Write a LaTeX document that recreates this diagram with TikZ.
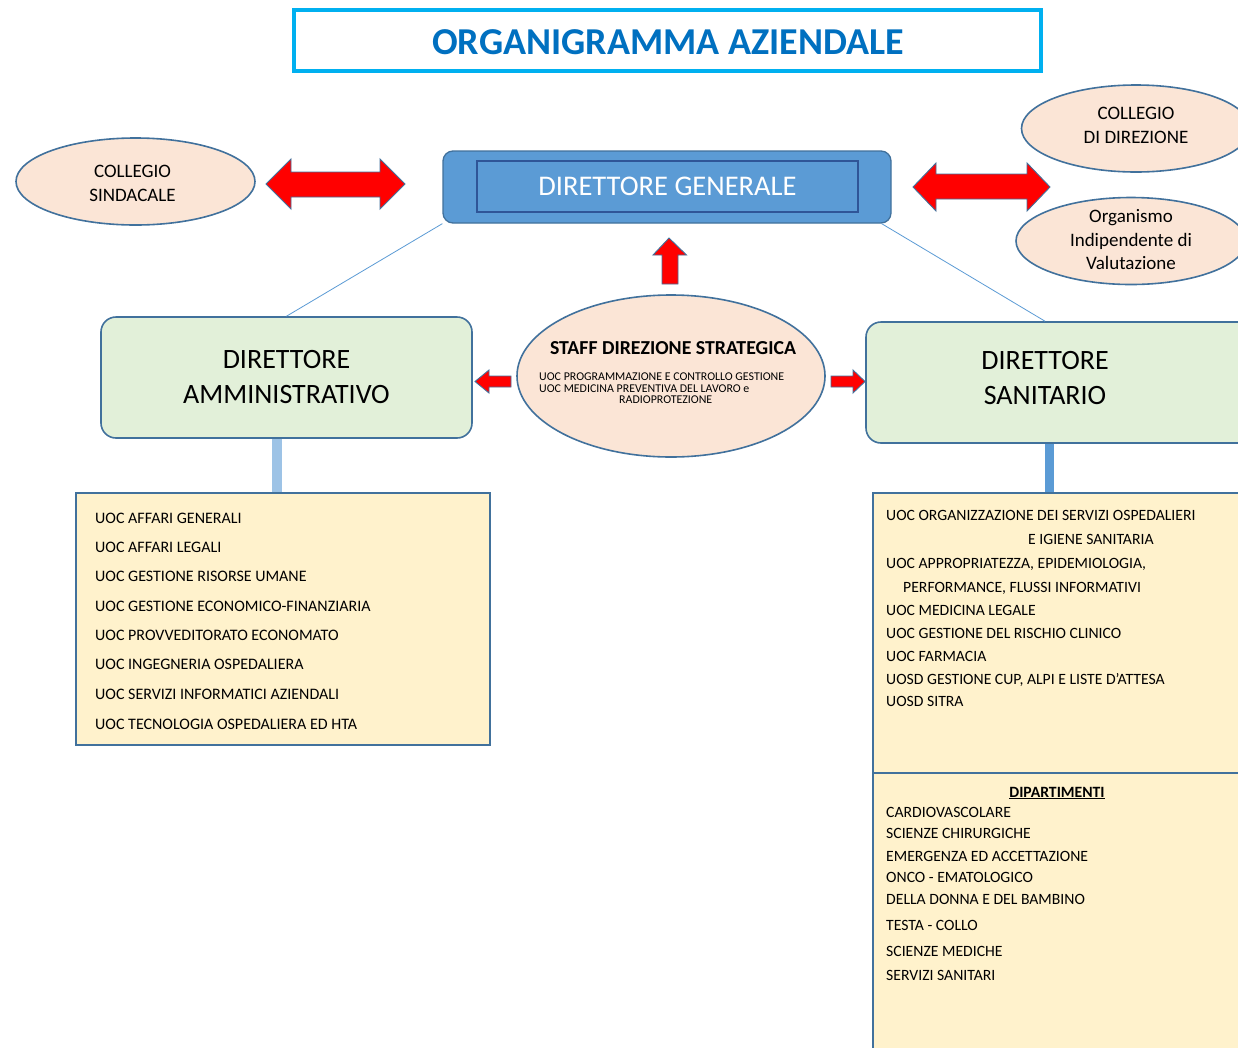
\documentclass[tikz,border=0pt]{standalone}
\usepackage{fontspec}
\setmainfont{Carlito}
\usetikzlibrary{shapes.geometric,calc}
\definecolor{titleblue}{HTML}{0070C0}
\definecolor{titleframe}{HTML}{00B0F0}
\definecolor{dgfill}{HTML}{5B9BD5}
\definecolor{frame}{HTML}{41719C}
\definecolor{dginner}{HTML}{2F5597}
\definecolor{peach}{HTML}{FBE5D6}
\definecolor{palegreen}{HTML}{E2F0D9}
\definecolor{paleyellow}{HTML}{FFF2CC}
\definecolor{lightbar}{HTML}{9DC3E6}
\tikzset{
  oval/.style={ellipse, draw=frame, fill=peach, line width=1.6pt, inner sep=0pt},
  ovaltext/.style={inner sep=0pt, align=center, font=\fontsize{19}{23.5}\selectfont},
  dirbox/.style={rectangle, rounded corners=15pt, draw=frame, fill=palegreen, line width=1.6pt,
    align=center, font=\fontsize{28}{35}\selectfont},
  listbox/.style={rectangle, draw=frame, fill=paleyellow, line width=1.6pt},
  redarrow/.style={fill=red, draw=frame, line width=0.9pt, line join=miter},
  thinline/.style={draw=dgfill, line width=0.8pt},
  lst/.style={anchor=base west, inner sep=0pt, font=\fontsize{16}{19}\selectfont},
  lstr/.style={anchor=base west, inner sep=0pt, font=\fontsize{15.7}{19}\selectfont},
  small/.style={anchor=base west, inner sep=0pt, font=\fontsize{11.9}{13}\selectfont},
}
\begin{document}
\begin{tikzpicture}[x=1pt,y=-1pt]
\useasboundingbox (0,0) rectangle (1238,1047);
\clip (0,0) rectangle (1238,1047);
\fill[white] (0,0) rectangle (1238,1047);

% title
\node[draw=titleframe, line width=4pt, minimum width=747pt, minimum height=61pt, inner sep=0pt] (titlebox) at (667.5,40.5) {};
\node[anchor=base, inner sep=0pt, text=titleblue, font=\fontsize{38}{44}\selectfont\bfseries] (title) at (668,54) {ORGANIGRAMMA AZIENDALE};

% direttore generale
\node[rectangle, rounded corners=10pt, draw=frame, fill=dgfill, line width=1.3pt, minimum width=448pt, minimum height=72pt] (dg) at (667,187) {};
\node[rectangle, draw=dginner, line width=1.3pt, minimum width=381pt, minimum height=51pt, text=white, font=\fontsize{28.5}{33}\selectfont] (dgi) at (667.5,186.5) {DIRETTORE GENERALE};

% side ovals
\node[oval, minimum width=239pt, minimum height=87pt] (cs) at (135.5,181.5) {};
\node[ovaltext] (cst) at (132.5,183.5) {COLLEGIO\\SINDACALE};
\node[oval, minimum width=229pt, minimum height=87pt] (cd) at (1136,128.5) {};
\node[ovaltext] (cdt) at (1136,125.5) {COLLEGIO\\DI DIREZIONE};
\node[oval, minimum width=230pt, minimum height=87pt] (oiv) at (1131,241) {};
\node[ovaltext] (oivt) at (1131,240) {Organismo\\Indipendente di\\Valutazione};

% double arrows
\draw[redarrow] (266,184) -- (291,159) -- (291,172) -- (380,172) -- (380,159) -- (405,184) -- (380,209) -- (380,197) -- (291,197) -- (291,209) -- cycle;
\draw[redarrow] (913,187) -- (936,163) -- (936,174) -- (1027,174) -- (1027,163) -- (1050,187) -- (1027,211) -- (1027,199) -- (936,199) -- (936,211) -- cycle;

% directors
\node[dirbox, minimum width=371pt, minimum height=121pt] (da) at (286.5,377.5) {DIRETTORE\\AMMINISTRATIVO};
\node[dirbox, minimum width=390pt, minimum height=121pt] (ds) at (1061,382.5) {};
\node[inner sep=0pt, align=center, font=\fontsize{28}{35}\selectfont] (dst) at (1045,378) {DIRETTORE\\SANITARIO};

% connectors from DG
\coordinate (dgR) at ($(dg.south east)+(-10,0)$);
\draw[thinline] (dg.south west) -- (da.north);
\draw[thinline] (dgR) -- (ds.north -| dst.north);

% staff
\node[ellipse, draw=frame, fill=peach, line width=1.6pt, minimum width=308pt, minimum height=162pt] (staff) at (671,376) {};
\node[anchor=base, inner sep=0pt, font=\fontsize{19.8}{22}\selectfont\bfseries] (stafft) at (673,354) {STAFF DIREZIONE STRATEGICA};
\node[small] (s1) at (539,380) {UOC PROGRAMMAZIONE E CONTROLLO GESTIONE};
\node[small] (s2) at (539,392) {UOC MEDICINA PREVENTIVA DEL LAVORO e};
\node[small] (s3) at (619,403) {RADIOPROTEZIONE};

% red arrows around staff
\draw[redarrow] (669,238) -- (686.5,255) -- (678,255) -- (678,284) -- (662,284) -- (662,255) -- (653,255) -- cycle;
\draw[redarrow] (475,381.5) -- (489,370) -- (489,376) -- (511,376) -- (511,387) -- (489,387) -- (489,393) -- cycle;
\draw[redarrow] (865,381.5) -- (853,370) -- (853,376) -- (831,376) -- (831,387) -- (853,387) -- (853,393) -- cycle;

% list boxes
\node[listbox, minimum width=414pt, minimum height=252pt] (la) at (283,619) {};
\node[listbox, minimum width=390pt, minimum height=280pt] (ra) at (1068,633) {};
\node[listbox, minimum width=390pt, minimum height=290pt] (rb) at (1068,918) {};

% vertical bars
\coordinate (barL) at (277,0);
\coordinate (barR) at (1049.5,0);
\draw[lightbar, line width=10pt] (barL |- da.south) -- (barL |- la.north);
\draw[dgfill, line width=9pt] (barR |- ds.south) -- (barR |- ra.north);

% left list
\node[lst] (l1) at (95,523) {UOC AFFARI GENERALI};
\node[lst] (l2) at (95,552) {UOC AFFARI LEGALI};
\node[lst] (l3) at (95,581) {UOC GESTIONE RISORSE UMANE};
\node[lst] (l4) at (95,611) {UOC GESTIONE ECONOMICO-FINANZIARIA};
\node[lst] (l5) at (95,640) {UOC PROVVEDITORATO ECONOMATO};
\node[lst] (l6) at (95,669) {UOC INGEGNERIA OSPEDALIERA};
\node[lst] (l7) at (95,699) {UOC SERVIZI INFORMATICI AZIENDALI};
\node[lst] (l8) at (95,729) {UOC TECNOLOGIA OSPEDALIERA ED HTA};

% right list
\node[lstr] (r1) at (886,520) {UOC ORGANIZZAZIONE DEI SERVIZI OSPEDALIERI};
\node[lstr] (r2) at (1028,544) {E IGIENE SANITARIA};
\node[lstr] (r3) at (886,568) {UOC APPROPRIATEZZA, EPIDEMIOLOGIA,};
\node[lstr] (r4) at (903,592) {PERFORMANCE, FLUSSI INFORMATIVI};
\node[lstr] (r5) at (886,615) {UOC MEDICINA LEGALE};
\node[lstr] (r6) at (886,638) {UOC GESTIONE DEL RISCHIO CLINICO};
\node[lstr] (r7) at (886,661) {UOC FARMACIA};
\node[lstr] (r8) at (886,684) {UOSD GESTIONE CUP, ALPI E LISTE D'ATTESA};
\node[lstr] (r9) at (886,706) {UOSD SITRA};

% dipartimenti
\node[anchor=base, inner sep=0pt, font=\fontsize{15.7}{19}\selectfont\bfseries] (dip) at (1057,797) {\underline{DIPARTIMENTI}};
\node[lstr] (d1) at (886,817) {CARDIOVASCOLARE};
\node[lstr] (d2) at (886,838) {SCIENZE CHIRURGICHE};
\node[lstr] (d3) at (886,861) {EMERGENZA ED ACCETTAZIONE};
\node[lstr] (d4) at (886,882) {ONCO - EMATOLOGICO};
\node[lstr] (d5) at (886,904) {DELLA DONNA E DEL BAMBINO};
\node[lstr] (d6) at (886,930) {TESTA - COLLO};
\node[lstr] (d7) at (886,956) {SCIENZE MEDICHE};
\node[lstr] (d8) at (886,980) {SERVIZI SANITARI};
\end{tikzpicture}
\end{document}
